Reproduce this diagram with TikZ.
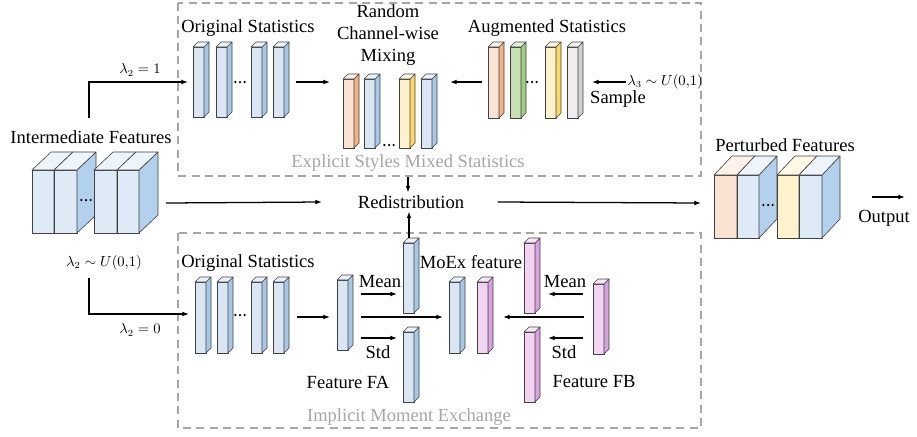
\documentclass[tikz,border=0pt]{standalone}
\usepackage{fontspec}
\setmainfont{Liberation Serif}
\usetikzlibrary{arrows.meta}
\definecolor{bF}{HTML}{DAE6F3}\definecolor{bS}{HTML}{A8C8E8}\definecolor{bT}{HTML}{EDF3FA}
\definecolor{oF}{HTML}{FBE3D3}\definecolor{oS}{HTML}{F4B183}\definecolor{oT}{HTML}{FDF1E9}
\definecolor{gF}{HTML}{C6E0B4}\definecolor{gS}{HTML}{A0CC84}\definecolor{gT}{HTML}{E2F0D9}
\definecolor{yF}{HTML}{FFF2CC}\definecolor{yS}{HTML}{FFD966}\definecolor{yT}{HTML}{FFF8E5}
\definecolor{kF}{HTML}{EDEDED}\definecolor{kS}{HTML}{D0D0D0}\definecolor{kT}{HTML}{F6F6F6}
\definecolor{pF}{HTML}{F2D4F2}\definecolor{pS}{HTML}{D8A2DC}\definecolor{pT}{HTML}{F8E9F8}
\definecolor{BbF}{HTML}{DEEAF6}\definecolor{BbS}{HTML}{B3D0EC}\definecolor{BbT}{HTML}{EEF4FB}
\definecolor{lineC}{HTML}{404040}
\definecolor{grayT}{HTML}{A6A6A6}
\newcommand\thinbar[6]{% x, top, bottom, front, side, topcol
  \filldraw[barline, fill=#4] (#1,#2) rectangle (#1+11,#3);
  \filldraw[barline, fill=#5] (#1+11,#2) -- (#1+16,#2-5) -- (#1+16,#3-5) -- (#1+11,#3) -- cycle;
  \filldraw[barline, fill=#6] (#1,#2) -- (#1+5,#2-5) -- (#1+16,#2-5) -- (#1+11,#2) -- cycle;
}
\newcommand\slab[9]{% x, w, top, bottom, dx, dy, front, side, topcol
  \filldraw[barline, fill=#7] (#1,#3) rectangle (#1+#2,#4);
  \filldraw[barline, fill=#8] (#1+#2,#3) -- (#1+#2+#5,#3-#6) -- (#1+#2+#5,#4-#6) -- (#1+#2,#4) -- cycle;
  \filldraw[barline, fill=#9] (#1,#3) -- (#1+#5,#3-#6) -- (#1+#2+#5,#3-#6) -- (#1+#2,#3) -- cycle;
}
\newcommand\threedots[2]{% centre x, y
  \fill (#1-4.6,#2) circle (1.25) (#1,#2) circle (1.25) (#1+4.6,#2) circle (1.25);
}
\begin{document}
\begin{tikzpicture}[x=0.75pt,y=-0.75pt,
  barline/.style={draw=lineC, line width=0.45pt, line join=round},
  lbl/.style={font=\fontsize{13.9}{16.5}\selectfont, inner sep=0pt},
  glbl/.style={lbl, text=grayT},
  mlbl/.style={font=\fontsize{10.5}{12}\selectfont, inner sep=0pt},
  arr/.style={-{Latex[length=5pt,width=3.6pt]}, line width=0.95pt},
  dbox/.style={draw=grayT, dash pattern=on 6pt off 4pt, line width=0.9pt}]
\useasboundingbox (0,0) rectangle (917,436);

% dashed boxes
\draw[dbox] (178,3) rectangle (701,176);
\draw[dbox] (178,233) rectangle (701,428);

% ---------- labels ----------
\node[lbl] (origT) at (248,28) {Original Statistics};
\node[lbl, align=center] (mixT) at (388,35) {Random\\Channel-wise\\Mixing};
\node[lbl] (augT) at (547,28) {Augmented Statistics};
\node[mlbl, anchor=west] (lam3) at (627,82) {$\lambda_3 \sim U(0{,}1)$};
\node[lbl] (sample) at (618,99) {Sample};
\node[glbl] (explT) at (408,163) {Explicit Styles Mixed Statistics};
\node[lbl] (interT) at (91,137) {Intermediate Features};
\node[mlbl] (lam21) at (140,70) {$\lambda_2 = 1$};
\node[lbl] (redis) at (411,202) {Redistribution};
\node[lbl] (pertT) at (785,145) {Perturbed Features};
\node[lbl] (outT) at (884,218) {Output};
\node[mlbl] (lam2u) at (104,263) {$\lambda_2 \sim U(0{,}1)$};
\node[mlbl] (lam20) at (140,330) {$\lambda_2 = 0$};
\node[lbl] (origB) at (248,263) {Original Statistics};
\node[lbl] (meanL) at (380,282) {Mean};
\node[lbl] (meanR) at (565,282) {Mean};
\node[lbl] (stdL) at (378,352) {Std};
\node[lbl] (stdR) at (564,352) {Std};
\node[lbl] (fa) at (348,382) {Feature FA};
\node[lbl] (fb) at (594,382) {Feature FB};
\node[lbl] (moex) at (471,262) {MoEx feature};
\node[glbl] (implT) at (409,417) {Implicit Moment Exchange};

% ---------- top row bars ----------
\thinbar{193}{47}{117}{bF}{bS}{bT}
\thinbar{216}{47}{117}{bF}{bS}{bT}
\thinbar{251}{47}{117}{bF}{bS}{bT}
\thinbar{273}{47}{117}{bF}{bS}{bT}
\threedots{240}{82}
\thinbar{343}{79}{148}{oF}{oS}{oT}
\thinbar{364}{79}{148}{bF}{bS}{bT}
\thinbar{399}{79}{148}{yF}{yS}{yT}
\thinbar{421}{79}{148}{bF}{bS}{bT}
\threedots{389}{145}
\thinbar{488}{47}{118}{oF}{oS}{oT}
\thinbar{510}{47}{118}{gF}{gS}{gT}
\thinbar{545}{47}{118}{yF}{yS}{yT}
\thinbar{567}{47}{118}{kF}{kS}{kT}
\threedots{532}{82}

% ---------- bottom row bars ----------
\thinbar{195}{282}{353}{bF}{bS}{bT}
\thinbar{217}{282}{353}{bF}{bS}{bT}
\thinbar{251}{282}{353}{bF}{bS}{bT}
\thinbar{273}{282}{353}{bF}{bS}{bT}
\threedots{240}{315}
\thinbar{337}{280}{350}{bF}{bS}{bT}
\thinbar{403}{243}{313}{bF}{bS}{bT}
\thinbar{403}{332}{402}{bF}{bS}{bT}
\thinbar{449}{282}{353}{bF}{bS}{bT}
\thinbar{477}{282}{353}{pF}{pS}{pT}
\thinbar{524}{243}{313}{pF}{pS}{pT}
\thinbar{524}{332}{402}{pF}{pS}{pT}
\thinbar{593}{284}{354}{pF}{pS}{pT}

% ---------- big blocks ----------
\slab{32}{22}{170}{233}{19}{18}{BbF}{BbS}{BbT}
\slab{54}{23}{170}{233}{19}{18}{BbF}{BbS}{BbT}
\slab{94}{23}{170}{233}{19}{18}{BbF}{BbS}{BbT}
\slab{117}{22}{170}{233}{19}{18}{BbF}{BbS}{BbT}
\threedots{86}{200}
\slab{714}{23}{175}{238}{18}{19}{oF}{BbS}{oT}
\slab{737}{22}{175}{238}{18}{19}{BbF}{BbS}{BbT}
\slab{777}{22}{175}{238}{18}{19}{yF}{BbS}{yT}
\slab{799}{23}{175}{238}{18}{19}{BbF}{BbS}{BbT}
\threedots{768}{205}

% ---------- connectors ----------
\coordinate (c1s) at (89,118); \coordinate (c1e) at (188,82);
\draw[arr] (c1s) |- (c1e);
\coordinate (c2s) at (296,82); \coordinate (c2e) at (330,82);
\draw[arr] (c2s) -- (c2e);
\coordinate (c3s) at (482,82); \coordinate (c3e) at (450,82);
\draw[arr] (c3s) -- (c3e);
\coordinate (c4e) at (592,82);
\draw[arr] ([xshift=-1pt]lam3.west) -- (c4e);
\coordinate (c5s) at (166,203);
\draw[arr] (c5s) -- (redis.west -| 322,0);
\coordinate (c6e) at (701,203);
\draw[arr] ([xshift=25pt]redis.east) -- (c6e);
\coordinate (c7s) at (408,177);
\draw[arr] (c7s) -- ([yshift=2pt]redis.north -| c7s);
\coordinate (c8s) at (409,238);
\draw[arr] (c8s) -- ([yshift=-2pt]redis.south -| c8s);
\coordinate (c9s) at (89,278); \coordinate (c9e) at (189,314);
\draw[arr] (c9s) |- (c9e);
\coordinate (c10s) at (297,317); \coordinate (c10e) at (330,317);
\draw[arr] (c10s) -- (c10e);
\coordinate (c11s) at (361,294); \coordinate (c11e) at (397,294);
\draw[arr] (c11s) -- (c11e);
\coordinate (c12s) at (361,317); \coordinate (c12e) at (443,317);
\draw[arr] (c12s) -- (c12e);
\coordinate (c13s) at (361,338); \coordinate (c13e) at (397,338);
\draw[arr] (c13s) -- (c13e);
\coordinate (c14s) at (584,317); \coordinate (c14e) at (503,317);
\draw[arr] (c14s) -- (c14e);
\coordinate (c15s) at (583,294); \coordinate (c15e) at (548,294);
\draw[arr] (c15s) -- (c15e);
\coordinate (c16s) at (583,338); \coordinate (c16e) at (548,338);
\draw[arr] (c16s) -- (c16e);
\coordinate (c17s) at (872,197); \coordinate (c17e) at (905,197);
\draw[arr] (c17s) -- (c17e);
\end{tikzpicture}
\end{document}
